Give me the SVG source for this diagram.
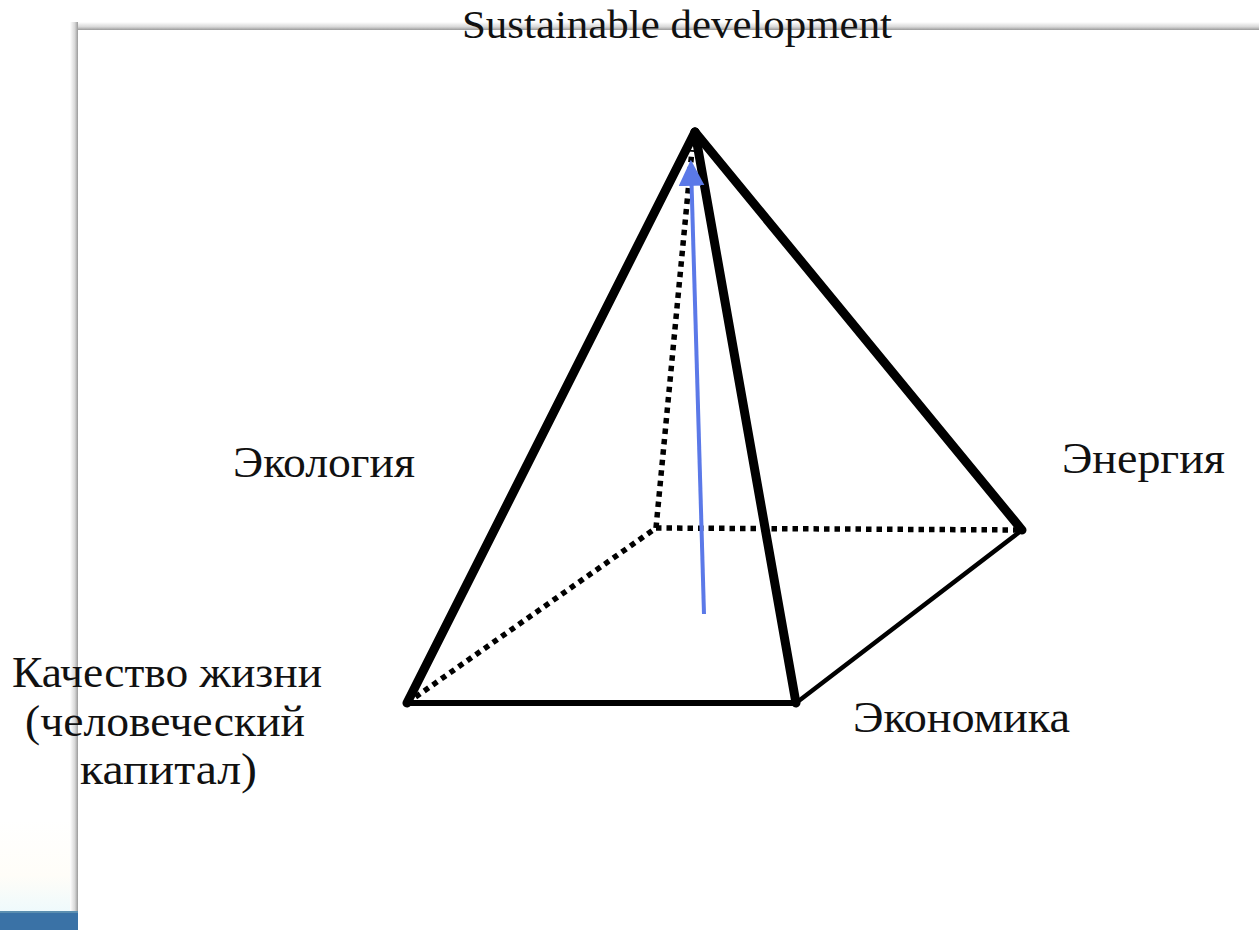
<svg xmlns="http://www.w3.org/2000/svg" width="1259" height="930" viewBox="0 0 1259 930">
  <defs>
    <linearGradient id="shadowTop" x1="0" y1="0" x2="0" y2="1">
      <stop offset="0" stop-color="#ffffff"/>
      <stop offset="0.6" stop-color="#d8d8d8"/>
      <stop offset="1" stop-color="#9a9a9a"/>
    </linearGradient>
    <linearGradient id="shadowLeft" x1="0" y1="0" x2="1" y2="0">
      <stop offset="0" stop-color="#ffffff"/>
      <stop offset="0.6" stop-color="#d8d8d8"/>
      <stop offset="1" stop-color="#9a9a9a"/>
    </linearGradient>
    <linearGradient id="cornerFade" x1="0" y1="0" x2="0" y2="1">
      <stop offset="0" stop-color="#ffffff"/>
      <stop offset="0.6" stop-color="#fffdf8"/>
      <stop offset="1" stop-color="#eefafc"/>
    </linearGradient>
    <marker id="arrowHead" viewBox="0 0 10 10" refX="8" refY="5" markerWidth="6.5" markerHeight="6.5" markerUnits="strokeWidth" orient="auto">
      <path d="M0,0 L10,5 L0,10 z" fill="#5b79e8"/>
    </marker>
    <style>
      .edge { stroke: #000; fill: none; stroke-linecap: round; stroke-linejoin: round; }
      .thick { stroke-width: 9; }
      .medium { stroke-width: 6; }
      .thin { stroke-width: 4.5; }
      .hidden { stroke: #000; fill: none; stroke-width: 5.5; stroke-dasharray: 5.5 5; }
      .label { font-family: "Liberation Serif", "DejaVu Serif", serif; font-size: 45px; fill: #111; }
      .title { font-family: "Liberation Serif", "DejaVu Serif", serif; font-size: 41px; fill: #111; }
    </style>
  </defs>

  <!-- page background and slide panel -->
  <rect x="0" y="0" width="1259" height="930" fill="#ffffff"/>
  <rect x="0" y="820" width="78" height="93" fill="url(#cornerFade)"/>
  <rect x="70" y="22" width="1189" height="8" fill="url(#shadowTop)"/>
  <rect x="70" y="22" width="8" height="908" fill="url(#shadowLeft)"/>
  <rect x="0" y="911" width="78" height="3" fill="#5c8fb0"/>
  <rect x="0" y="913" width="78" height="17" fill="#3a72a6"/>
  <rect x="78" y="30" width="1181" height="900" fill="#ffffff"/>

  <!-- pyramid edges -->
  <g id="connectors">
    <line class="hidden" x1="407" y1="703" x2="656" y2="528"/>
    <line class="hidden" x1="656" y1="528" x2="1022" y2="530"/>
    <line class="hidden" x1="656" y1="528" x2="692" y2="150"/>
    <line class="edge medium" x1="407" y1="703" x2="796" y2="703"/>
    <line class="edge thin" x1="796" y1="703" x2="1022" y2="530"/>
    <line class="edge thick" x1="695" y1="132" x2="407" y2="703"/>
    <line class="edge thick" x1="695" y1="132" x2="796" y2="703"/>
    <line class="edge thick" x1="695" y1="132" x2="1022" y2="530"/>
    <line x1="704" y1="614" x2="691" y2="165" stroke="#5b79e8" stroke-width="4" marker-end="url(#arrowHead)"/>
  </g>

  <!-- vertex labels -->
  <g id="node-top">
    <text class="title" x="462" y="38" textLength="430" lengthAdjust="spacingAndGlyphs">Sustainable development</text>
  </g>
  <g id="node-ecology">
    <text class="label" x="233" y="477" textLength="182" lengthAdjust="spacingAndGlyphs">Экология</text>
  </g>
  <g id="node-energy">
    <text class="label" x="1062" y="473" textLength="163" lengthAdjust="spacingAndGlyphs">Энергия</text>
  </g>
  <g id="node-quality">
    <text class="label" x="12" y="687" textLength="310" lengthAdjust="spacingAndGlyphs">Качество жизни</text>
    <text class="label" x="25" y="736" textLength="280" lengthAdjust="spacingAndGlyphs">(человеческий</text>
    <text class="label" x="80" y="784" textLength="177" lengthAdjust="spacingAndGlyphs">капитал)</text>
  </g>
  <g id="node-economy">
    <text class="label" x="853" y="732" textLength="217" lengthAdjust="spacingAndGlyphs">Экономика</text>
  </g>
</svg>
